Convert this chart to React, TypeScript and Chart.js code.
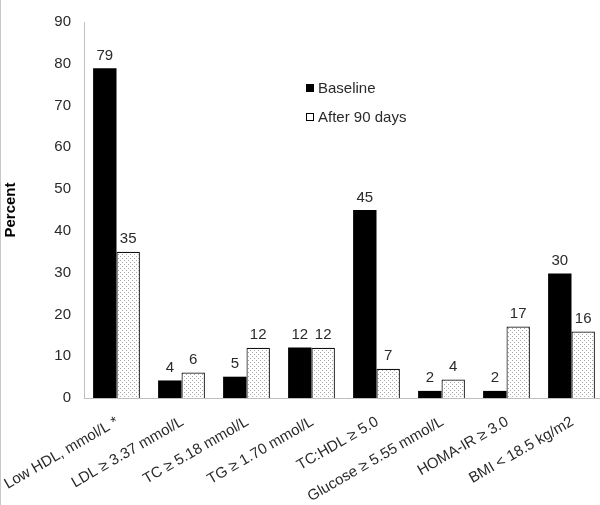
import React, { useEffect, useRef } from "react";
import { Chart, registerables } from "chart.js";

Chart.register(...registerables);

const categories = [
  "Low HDL, mmol/L *",
  "LDL ≥ 3.37 mmol/L",
  "TC ≥ 5.18 mmol/L",
  "TG ≥ 1.70 mmol/L",
  "TC:HDL ≥ 5.0",
  "Glucose ≥ 5.55 mmol/L",
  "HOMA-IR ≥ 3.0",
  "BMI < 18.5 kg/m2",
];
const baseline = [78.9, 4.2, 5.1, 12.1, 45, 1.7, 1.7, 29.8];
const after90 = [35, 6.1, 12, 12, 7, 4.4, 17.1, 15.9];
const seriesNames = ["Baseline", "After 90 days"];
const yTicks = [0, 10, 20, 30, 40, 50, 60, 70, 80, 90];

const FONT = "'Liberation Sans', Arial, sans-serif";
const TEXT = "#2a2a2a";
const AXIS = "#bfbfbf";
const FS = 15;

function makePattern(): CanvasPattern | string {
  const c = document.createElement("canvas");
  c.width = 4;
  c.height = 4;
  const g = c.getContext("2d");
  if (!g) return "#eeeeee";
  g.fillStyle = "#ffffff";
  g.fillRect(0, 0, 4, 4);
  g.fillStyle = "#a8a8a8";
  g.fillRect(0, 0, 1, 1);
  g.fillRect(2, 2, 1, 1);
  const p = g.createPattern(c, "repeat");
  return p || "#eeeeee";
}

const valueLabels = {
  id: "valueLabels",
  afterDatasetsDraw(chart: any) {
    const ctx = chart.ctx;
    ctx.save();
    ctx.font = `${FS}px ${FONT}`;
    ctx.fillStyle = TEXT;
    ctx.textAlign = "center";
    ctx.textBaseline = "alphabetic";
    chart.data.datasets.forEach((ds: any, i: number) => {
      const meta = chart.getDatasetMeta(i);
      meta.data.forEach((el: any, j: number) => {
        ctx.fillText(String(Math.round(ds.data[j])), el.x, el.y - 8.5);
      });
    });
    ctx.restore();
  },
};

const customLegend = {
  id: "customLegend",
  afterDraw(chart: any) {
    const ctx = chart.ctx;
    ctx.save();
    ctx.font = `${FS}px ${FONT}`;
    ctx.textBaseline = "middle";
    ctx.textAlign = "left";
    const x0 = 306;
    const ys = [88, 117];
    chart.data.datasets.forEach((ds: any, i: number) => {
      const y = ys[i];
      if (i === 0) {
        ctx.fillStyle = "#000000";
        ctx.fillRect(x0, y - 4, 8, 8);
      } else {
        ctx.fillStyle = "#ffffff";
        ctx.fillRect(x0, y - 4, 8, 8);
        ctx.strokeStyle = "#000000";
        ctx.lineWidth = 1;
        ctx.strokeRect(x0 + 0.5, y - 3.5, 7, 7);
      }
      ctx.fillStyle = TEXT;
      ctx.fillText(ds.label, x0 + 12, y + 1);
    });
    ctx.restore();
  },
};

export default function App() {
  const ref = useRef<HTMLCanvasElement | null>(null);

  useEffect(() => {
    if (!ref.current) return;
    const pattern = makePattern();
    const chart = new Chart(ref.current, {
      type: "bar",
      data: {
        labels: categories,
        datasets: [
          {
            label: seriesNames[0],
            data: baseline,
            backgroundColor: "#000000",
            borderColor: "#000000",
            borderWidth: 0,
            categoryPercentage: 0.72,
            barPercentage: 1.0,
          },
          {
            label: seriesNames[1],
            data: after90,
            backgroundColor: pattern as any,
            borderColor: "#111111",
            borderWidth: 1.2,
            categoryPercentage: 0.72,
            barPercentage: 1.0,
          },
        ],
      },
      options: {
        animation: false,
        responsive: false,
        maintainAspectRatio: false,
        layout: { padding: { top: 9, right: 2, left: 0, bottom: 0 } },
        plugins: {
          legend: { display: false },
          tooltip: { enabled: false },
        },
        scales: {
          x: {
            grid: { display: false, drawTicks: false },
            border: { display: true, color: AXIS, width: 1 },
            ticks: {
              color: TEXT,
              font: { family: FONT, size: FS },
              minRotation: 30,
              maxRotation: 30,
              padding: 15,
              labelOffset: 1,
              autoSkip: false,
            },
            afterFit: (s: any) => {
              s.height = 107;
              s.paddingLeft = 0;
              s.paddingRight = 0;
            },
          },
          y: {
            min: 0,
            max: 90,
            grid: { display: false, drawTicks: false },
            border: { display: true, color: AXIS, width: 1 },
            afterBuildTicks: (s: any) => {
              s.ticks = yTicks.map((v) => ({ value: v }));
            },
            ticks: {
              color: TEXT,
              font: { family: FONT, size: FS },
              padding: 13,
            },
            title: {
              display: true,
              text: "Percent",
              color: "#000000",
              font: { family: FONT, size: FS, weight: "bold" },
              padding: { top: 2, bottom: 0 },
            },
            afterFit: (s: any) => {
              s.width = 84;
            },
          },
        },
      },
      plugins: [valueLabels, customLegend],
    });
    return () => chart.destroy();
  }, []);

  return (
    <div
      style={{
        position: "fixed",
        left: 0,
        top: 0,
        width: 600,
        height: 505,
        overflow: "hidden",
        background: "#ffffff",
      }}
    >
      <canvas
        ref={ref}
        width={606}
        height={505}
        style={{ position: "absolute", left: 0, top: 0, width: 606, height: 505 }}
      />
      <div
        style={{
          position: "absolute",
          left: 0,
          top: 0,
          width: 1,
          height: 505,
          background: "#c8c8c8",
        }}
      />
    </div>
  );
}
